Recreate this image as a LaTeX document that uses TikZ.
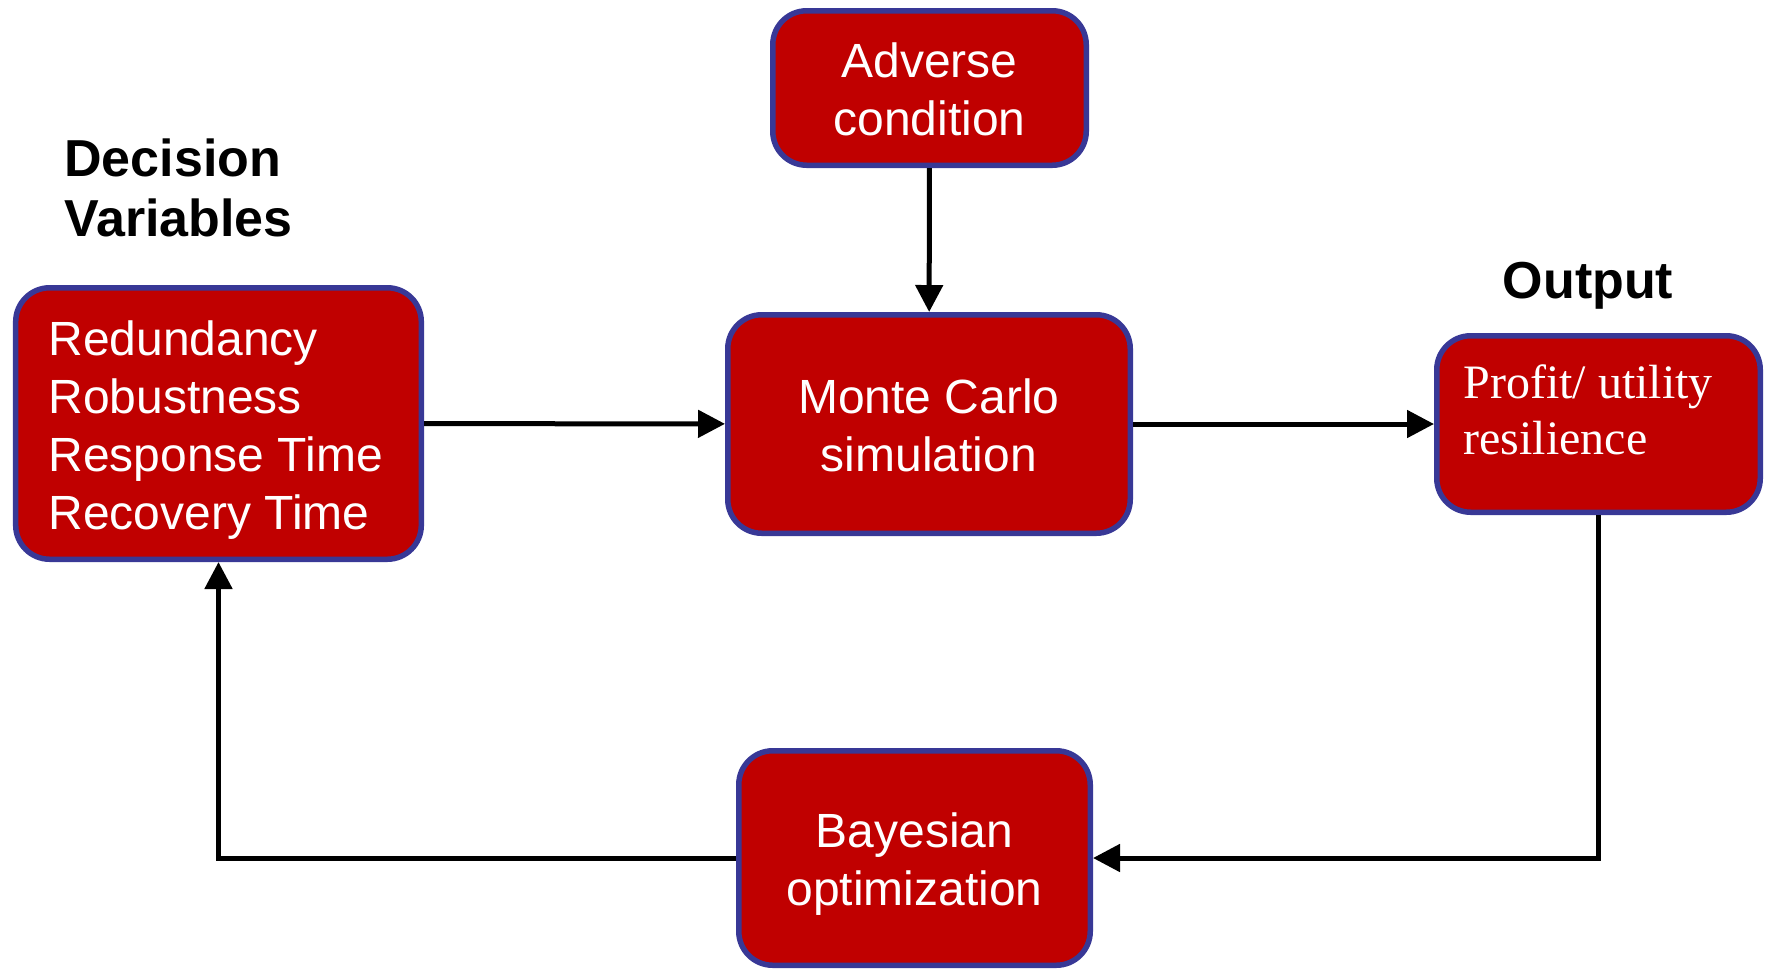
\documentclass[tikz,border=0pt]{standalone}
\usepackage{fontspec}
\setmainfont{Liberation Sans}
\newfontfamily\timesfont{Liberation Serif}
\usetikzlibrary{arrows.meta}
\definecolor{boxred}{RGB}{192,0,0}
\definecolor{boxblue}{RGB}{56,56,150}
\newcommand{\topstrut}{\rule{0pt}{26.2pt}}
\newcommand{\botstrut}{\rule[-7.3pt]{0pt}{7.3pt}}
\tikzset{
  block/.style={draw=boxblue, fill=boxred, line width=2.75pt, rounded corners=17pt,
    text=white, font=\fontsize{24}{29}\selectfont, align=flush center, inner sep=0pt,
    execute at begin node=\topstrut, execute at end node=\botstrut},
  flow/.style={line width=2.5pt, -{Triangle[length=13.5pt,width=13.5pt]}},
  heading/.style={font=\fontsize{26}{30}\selectfont\bfseries, align=left, inner sep=0pt}
}
\begin{document}
\begin{tikzpicture}[x=0.5pt,y=-0.5pt]
	\useasboundingbox (0,0) rectangle (1767,971);
	\node[block, minimum width=202.75pt, minimum height=135.75pt, text width=170pt, inner xsep=16.4pt, align=flush left] (dv) at (218.5,423.5)
		{Redundancy\\Robustness\\Response Time\\Recovery Time};
	\node[block, minimum width=156.75pt, minimum height=77.25pt, text width=140pt] (adv) at (929.5,88) {Adverse\\condition};
	\node[block, minimum width=201.25pt, minimum height=109.25pt, text width=190pt] (mc) at (929,424) {Monte Carlo\\simulation};
	\node[block, minimum width=161.75pt, minimum height=88.25pt] (out) at (1598.5,424) {};
	\node[anchor=north west, inner sep=0pt, text=white, align=left, font=\timesfont\fontsize{24}{28}\selectfont] (outtxt) at (1463,364)
		{Profit/ utility\\resilience};
	\node[block, minimum width=175.75pt, minimum height=107.25pt, text width=165pt] (bo) at (914.5,858) {Bayesian\\optimization};
	\node[heading, anchor=west] (dvhead) at (64,188) {Decision\\Variables};
	\node[heading, anchor=base] (outhead) at (1588,298) {Output};
	\draw[flow] (dv) -- (mc);
	\draw[flow] (adv) -- (mc);
	\draw[flow] (mc) -- (out);
	\draw[flow] (out.south) |- (bo.east);
	\draw[flow] (bo.west) -| (dv.south);
\end{tikzpicture}
\end{document}
